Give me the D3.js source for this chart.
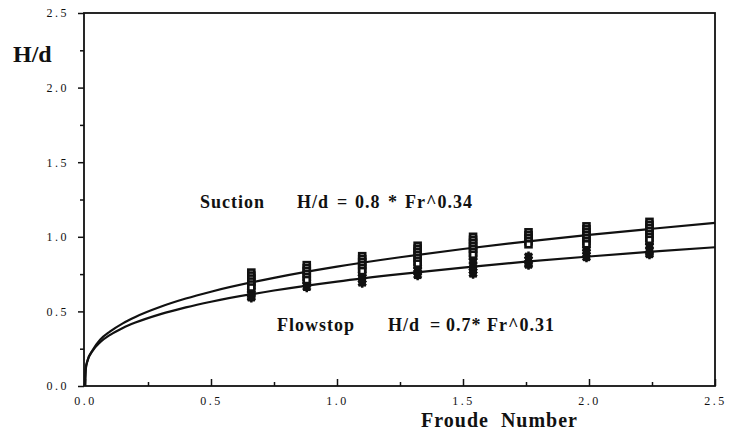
<!DOCTYPE html>
<html>
<head>
<meta charset="utf-8">
<script src="https://cdn.jsdelivr.net/npm/d3@7"></script>
<style>
  body { margin: 0; background: #fff; }
  text { font-family: "Liberation Serif", "Times New Roman", serif; fill: #111; }
</style>
</head>
<body>
<svg id="viz"></svg>
<script>
var width = 730;
var height = 441;

// cluster positions (Froude number)
var froude = [0.66, 0.88, 1.10, 1.32, 1.54, 1.76, 1.99, 2.24];

// measured H/d per cluster
var suctionVals = [
  [0.76, 0.74, 0.72, 0.70, 0.68, 0.66],
  [0.81, 0.79, 0.77, 0.75, 0.73, 0.71],
  [0.87, 0.85, 0.83, 0.81, 0.79, 0.77],
  [0.94, 0.92, 0.90, 0.88, 0.86, 0.84, 0.82],
  [1.00, 0.98, 0.96, 0.94, 0.92, 0.90, 0.88],
  [1.03, 1.01, 0.99, 0.97, 0.95],
  [1.07, 1.05, 1.03, 1.01, 0.99, 0.97, 0.95],
  [1.10, 1.08, 1.06, 1.04, 1.02, 1.00, 0.98]
];
var flowstopVals = [
  [0.64, 0.62, 0.60, 0.59],
  [0.70, 0.68, 0.66],
  [0.75, 0.73, 0.71, 0.69],
  [0.80, 0.78, 0.76, 0.74],
  [0.86, 0.84, 0.81, 0.79, 0.77, 0.75],
  [0.87, 0.85, 0.82, 0.81],
  [0.92, 0.90, 0.88, 0.86],
  [0.96, 0.94, 0.91, 0.89, 0.88]
];

// fitted curves, points
var curveFr      = [0, 0.003, 0.01, 0.03, 0.06, 0.1, 0.15, 0.2, 0.3, 0.4, 0.5, 0.75, 1.0, 1.25, 1.5, 1.75, 2.0, 2.25, 2.5];
var suctionCurve = [0, 0.11, 0.17, 0.24, 0.31, 0.366, 0.42, 0.463, 0.531, 0.586, 0.632, 0.725, 0.80, 0.863, 0.918, 0.968, 1.013, 1.054, 1.093];
var flowCurve    = [0, 0.12, 0.17, 0.235, 0.293, 0.343, 0.389, 0.425, 0.482, 0.527, 0.565, 0.640, 0.70, 0.750, 0.794, 0.833, 0.868, 0.900, 0.930];

var majorTicks = [0, 0.5, 1.0, 1.5, 2.0, 2.5];
var minorTicks = [0.25, 0.75, 1.25, 1.75, 2.25];

// equation labels, one token per entry
var suctionLabel = ["Suction", "H/d", "=", "0.8", "*", "Fr^0.34"];
var flowLabel = ["Flowstop", "H/d", "=", "0.7*", "Fr^0.31"];

var svg = d3.select("#viz")
    .attr("width", width)
    .attr("height", height);

var x = d3.scaleLinear().domain([0, 2.5]).range([85, 715]);
var y = d3.scaleLinear().domain([0, 2.5]).range([386, 13]);

// frame
svg.append("rect")
    .attr("x", x(0) - 1).attr("y", y(2.5))
    .attr("width", x(2.5) - x(0) + 1).attr("height", y(0) - y(2.5))
    .attr("fill", "none").attr("stroke", "#111").attr("stroke-width", 1.8);

// y axis
var yAxis = svg.append("g").attr("transform", "translate(" + (x(0) - 1) + ",0)")
    .call(d3.axisLeft(y).tickValues(majorTicks).tickFormat(d3.format(".1f")).tickSize(6).tickPadding(9));
yAxis.append("g")
    .call(d3.axisLeft(y).tickValues(minorTicks).tickFormat("").tickSize(4));

// x axis, ticks pointing in
var xAxis = svg.append("g").attr("transform", "translate(0," + y(0) + ")")
    .call(d3.axisBottom(x).tickValues(majorTicks).tickFormat(d3.format(".1f")).tickSize(-7).tickPadding(10));
xAxis.append("g")
    .call(d3.axisBottom(x).tickValues(minorTicks).tickFormat("").tickSize(-4));

svg.selectAll(".domain").remove();
svg.selectAll(".tick line").attr("stroke", "#111").attr("stroke-width", 1.5);
svg.selectAll(".tick text")
    .attr("font-family", "Liberation Serif, Times New Roman, serif")
    .attr("font-size", 12)
    .attr("letter-spacing", 2.5)
    .attr("fill", "#222");

// curves
var line = d3.line()
    .x(function(d) { return x(d[0]); })
    .y(function(d) { return y(d[1]); })
    .curve(d3.curveMonotoneX);

[suctionCurve, flowCurve].forEach(function(c) {
    svg.append("path")
        .datum(curveFr.map(function(f, i) { return [f, c[i]]; }))
        .attr("d", line)
        .attr("fill", "none")
        .attr("stroke", "#111")
        .attr("stroke-width", 2.2);
});

// flowstop markers (solid stars)
var flowPts = [];
froude.forEach(function(f, i) {
    flowstopVals[i].forEach(function(v) { flowPts.push([f, v]); });
});
svg.append("g").selectAll("path")
    .data(flowPts)
    .enter().append("path")
    .attr("transform", function(d) { return "translate(" + x(d[0]) + "," + y(d[1]) + ")"; })
    .attr("d", d3.symbol().type(d3.symbolAsterisk).size(60))
    .attr("fill", "none")
    .attr("stroke", "#111")
    .attr("stroke-width", 2.5);
svg.append("g").selectAll("rect")
    .data(flowPts)
    .enter().append("rect")
    .attr("x", function(d) { return x(d[0]) - 3.5; })
    .attr("y", function(d) { return y(d[1]) - 3.5; })
    .attr("width", 7).attr("height", 7)
    .attr("fill", "#111");

// suction markers (open squares, heavily overprinted)
var suctionPts = [];
froude.forEach(function(f, i) {
    suctionVals[i].forEach(function(v) { suctionPts.push([f, v]); });
});
svg.append("g").selectAll("rect")
    .data(suctionPts)
    .enter().append("rect")
    .attr("x", function(d) { return x(d[0]) - 3; })
    .attr("y", function(d) { return y(d[1]) - 3; })
    .attr("width", 6).attr("height", 6)
    .attr("fill", "#fff")
    .attr("stroke", "#111")
    .attr("stroke-width", 2.6);

// labels
svg.append("text")
    .attr("x", 13).attr("y", 62)
    .attr("font-size", 24).attr("font-weight", "bold")
    .text("H/d");

function equation(tokens, xs, baseline) {
    svg.append("text")
        .attr("y", baseline)
        .attr("font-size", 18).attr("font-weight", "bold")
        .attr("letter-spacing", 1)
        .selectAll("tspan")
        .data(tokens)
        .enter().append("tspan")
        .attr("x", function(d, i) { return xs[i]; })
        .text(function(d) { return d; });
}
equation(suctionLabel, [200, 297, 337, 355, 388, 405], 208);
equation(flowLabel, [277, 388, 430, 446, 487], 331);

svg.append("text")
    .attr("x", 578).attr("y", 427)
    .attr("text-anchor", "end")
    .attr("font-size", 20).attr("font-weight", "bold")
    .attr("letter-spacing", 1)
    .style("white-space", "pre")
    .text("Froude  Number");
</script>
</body>
</html>
